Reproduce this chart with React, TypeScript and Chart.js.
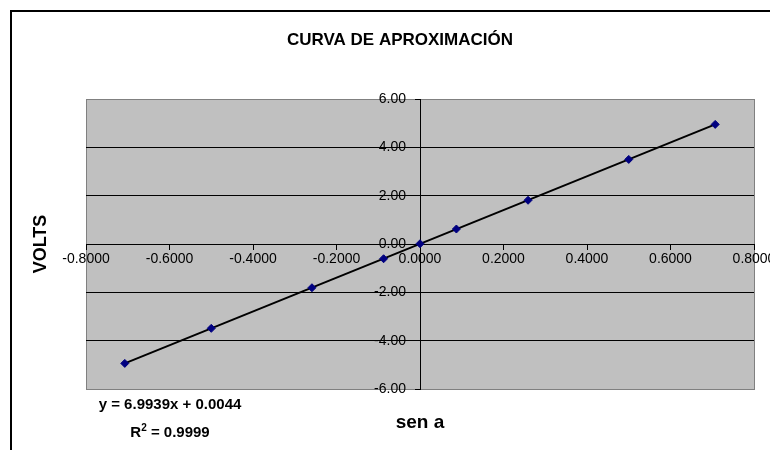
import React, { useEffect, useRef } from "react";
import { Chart, registerables } from "chart.js";

Chart.register(...registerables);

const senA = [-0.7071, -0.5, -0.2588, -0.0872, 0, 0.0872, 0.2588, 0.5, 0.7071];
const volts = [-4.94, -3.49, -1.81, -0.61, 0.01, 0.62, 1.81, 3.5, 4.95];
const trendX = [-0.7071, 0.7071];
const trendY = [-4.94, 4.95];
const titleText = "CURVA DE APROXIMACIÓN";
const yTitle = "VOLTS";
const xTitle = "sen a";
const equation = "y = 6.9939x + 0.0044";
const r2Value = " = 0.9999";

const FONT = "'Liberation Sans', Arial, sans-serif";

const decorPlugin = {
  id: "decor",
  beforeDraw(chart: any) {
    const { ctx, chartArea } = chart;
    ctx.save();
    ctx.fillStyle = "#ffffff";
    ctx.fillRect(0, 0, chart.width, chart.height);
    ctx.strokeStyle = "#000000";
    ctx.lineWidth = 2;
    ctx.strokeRect(11, 11, 900, 900);
    ctx.fillStyle = "#C0C0C0";
    ctx.fillRect(chartArea.left, chartArea.top, chartArea.right - chartArea.left, chartArea.bottom - chartArea.top);
    ctx.strokeStyle = "#808080";
    ctx.lineWidth = 1;
    ctx.strokeRect(chartArea.left + 0.5, chartArea.top + 0.5, chartArea.right - chartArea.left, chartArea.bottom - chartArea.top);
    ctx.restore();
  },
  afterDraw(chart: any) {
    const { ctx } = chart;
    ctx.save();
    ctx.fillStyle = "#000000";
    ctx.textBaseline = "alphabetic";
    ctx.textAlign = "center";
    ctx.font = `bold 17px ${FONT}`;
    ctx.fillText(titleText, 400, 45);

    ctx.font = `bold 19px ${FONT}`;
    ctx.fillText(xTitle, 420, 428);

    ctx.save();
    ctx.translate(46, 244);
    ctx.rotate(-Math.PI / 2);
    ctx.font = `bold 18px ${FONT}`;
    ctx.fillText(yTitle, 0, 0);
    ctx.restore();

    ctx.font = `bold 15px ${FONT}`;
    ctx.fillText(equation, 170, 409);

    // R² line
    ctx.textAlign = "left";
    ctx.font = `bold 15px ${FONT}`;
    const wR = ctx.measureText("R").width;
    const wRest = ctx.measureText(r2Value).width;
    ctx.font = `bold 10px ${FONT}`;
    const w2 = ctx.measureText("2").width;
    const total = wR + w2 + wRest;
    let x = 170 - total / 2;
    ctx.font = `bold 15px ${FONT}`;
    ctx.fillText("R", x, 437);
    x += wR;
    ctx.font = `bold 10px ${FONT}`;
    ctx.fillText("2", x, 431);
    x += w2;
    ctx.font = `bold 15px ${FONT}`;
    ctx.fillText(r2Value, x, 437);
    ctx.restore();
  },
};

export default function App() {
  const ref = useRef<HTMLCanvasElement | null>(null);
  useEffect(() => {
    if (!ref.current) return;
    const chart = new Chart(ref.current, {
      type: "scatter",
      data: {
        datasets: [
          {
            label: "data",
            data: senA.map((v, i) => ({ x: v, y: volts[i] })),
            showLine: false,
            pointStyle: "rectRot",
            pointRadius: 4,
            pointBackgroundColor: "#000080",
            pointBorderColor: "#000080",
            pointBorderWidth: 1,
            order: 0,
          },
          {
            label: "trend",
            data: trendX.map((v, i) => ({ x: v, y: trendY[i] })),
            showLine: true,
            borderColor: "#000000",
            borderWidth: 2,
            pointRadius: 0,
            order: 1,
          },
        ],
      },
      options: {
        animation: false,
        responsive: false,
        devicePixelRatio: 1,
        layout: { padding: { left: 86, right: 16, top: 99, bottom: 61 } },
        plugins: {
          legend: { display: false },
          title: { display: false },
          tooltip: { enabled: false },
        },
        scales: {
          x: {
            type: "linear",
            min: -0.8,
            max: 0.8,
            position: { y: 0 },
            afterFit: (s: any) => {
              s.paddingLeft = 0;
              s.paddingRight = 0;
            },
            grid: {
              drawOnChartArea: false,
              drawTicks: true,
              tickLength: 5,
              tickColor: "#000000",
            },
            border: { display: true, color: "#000000", width: 1 },
            ticks: {
              stepSize: 0.2,
              autoSkip: false,
              maxRotation: 0,
              padding: 2,
              color: "#000000",
              font: { family: FONT, size: 14 },
              callback: (v: any) => {
                const n = Math.abs(Number(v)) < 1e-9 ? 0 : Number(v);
                return n.toFixed(4);
              },
            },
          },
          y: {
            type: "linear",
            min: -6,
            max: 6,
            position: { x: 0 },
            afterFit: (s: any) => {
              s.paddingTop = 0;
              s.paddingBottom = 0;
            },
            grid: {
              drawOnChartArea: true,
              drawTicks: true,
              tickLength: 5,
              color: (c: any) => (Math.abs(c.tick?.value) >= 6 ? "#808080" : "#000000"),
              tickColor: "#000000",
            },
            border: { display: true, color: "#000000", width: 1 },
            ticks: {
              stepSize: 2,
              autoSkip: false,
              color: "#000000",
              font: { family: FONT, size: 14 },
              callback: (v: any) => {
                const n = Math.abs(Number(v)) < 1e-9 ? 0 : Number(v);
                return n.toFixed(2) + "\u2002\u2002";
              },
            },
          },
        },
      },
      plugins: [decorPlugin],
    });
    return () => chart.destroy();
  }, []);
  return (
    <div style={{ position: "absolute", left: 0, top: 0, width: 770, height: 450, overflow: "hidden" }}>
      <canvas ref={ref} width={770} height={450} style={{ display: "block" }} />
    </div>
  );
}
